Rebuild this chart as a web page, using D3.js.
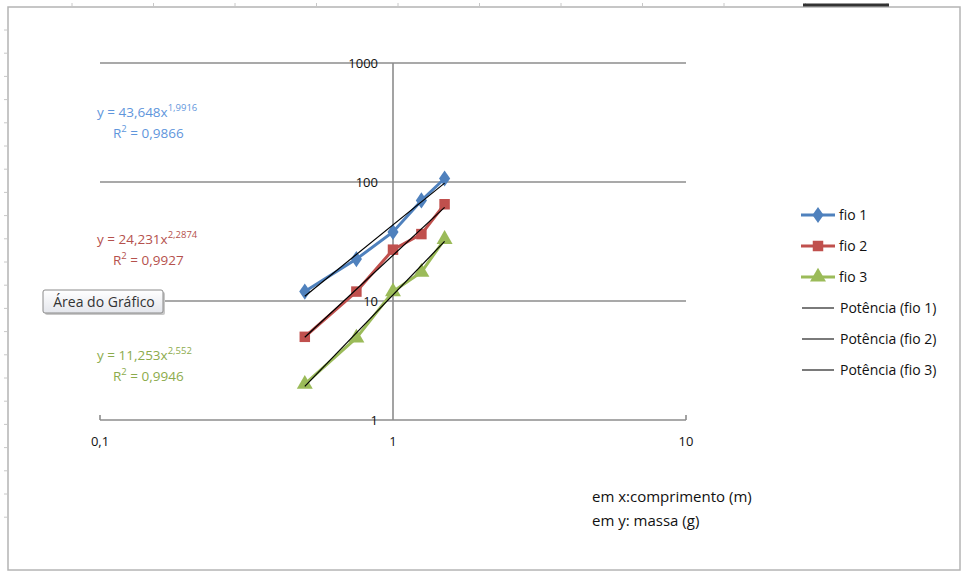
<!DOCTYPE html>
<html>
<head>
<meta charset="utf-8">
<script src="https://cdn.jsdelivr.net/npm/d3@7"></script>
<style>
  body { margin: 0; background: #fff; }
  svg { display: block; }
</style>
</head>
<body>
<svg id="chart" width="965" height="574"></svg>
<script>
// data
const xVals = [0.5, 0.75, 1, 1.25, 1.5];
const fio1 = [12, 22.5, 38, 70, 107];
const fio2 = [5, 12, 27, 36.5, 65];
const fio3 = [2, 4.9, 12, 17.5, 33];
const seriesNames = ["fio 1", "fio 2", "fio 3"];
const trendA = [43.648, 24.231, 11.253];
const trendB = [1.9916, 2.2874, 2.552];
const trendR2 = [0.9866, 0.9927, 0.9946];
const xTicks = [0.1, 1, 10];
const yTicks = [1, 10, 100, 1000];

const colors = ["#4F81BD", "#C0504D", "#9BBB59"];
const eqColors = ["#5f96dc", "#b5514d", "#8cab4c"];
const font = "'Open Sans', 'Noto Sans', sans-serif";

const svg = d3.select("#chart");

const x = d3.scaleLog().domain([0.1, 10]).range([100, 686]);
const y = d3.scaleLog().domain([1, 1000]).range([420, 63]);

function fmt(v) {
  return String(v).replace(".", ",");
}

// frame with worksheet ticks
svg.append("rect")
  .attr("x", 8).attr("y", 7).attr("width", 952).attr("height", 563)
  .attr("fill", "#fff").attr("stroke", "#b4b4b4").attr("stroke-width", 1.5);

d3.range(30, 530, 23.2).forEach(ty => {
  svg.append("line").attr("x1", 4).attr("x2", 7).attr("y1", ty).attr("y2", ty)
    .attr("stroke", "#c8c8c8");
});
d3.range(72, 960, 81.5).forEach(tx => {
  svg.append("line").attr("x1", tx).attr("x2", tx).attr("y1", 3).attr("y2", 6)
    .attr("stroke", "#c8c8c8");
});
svg.append("line").attr("x1", 803).attr("x2", 889).attr("y1", 5).attr("y2", 5)
  .attr("stroke", "#333").attr("stroke-width", 3);

// gridlines
const g = svg.append("g");
yTicks.filter(t => t > 1).forEach(t => {
  g.append("line")
    .attr("x1", x(0.1)).attr("x2", x(10))
    .attr("y1", y(t)).attr("y2", y(t))
    .attr("stroke", "#8c8c8c").attr("stroke-width", 1.6);
});

// axes
g.append("line")
  .attr("x1", x(1)).attr("x2", x(1))
  .attr("y1", y(1000)).attr("y2", y(1))
  .attr("stroke", "#8c8c8c").attr("stroke-width", 1.6);
g.append("line")
  .attr("x1", x(0.1)).attr("x2", x(10))
  .attr("y1", y(1)).attr("y2", y(1))
  .attr("stroke", "#8c8c8c").attr("stroke-width", 1.6);
[0.1, 10].forEach(t => {
  g.append("line")
    .attr("x1", x(t)).attr("x2", x(t))
    .attr("y1", y(1) - 5).attr("y2", y(1))
    .attr("stroke", "#8c8c8c").attr("stroke-width", 1.6);
});

// tick labels
yTicks.forEach(t => {
  g.append("text")
    .attr("x", x(1) - 15).attr("y", y(t) + 4.5)
    .attr("text-anchor", "end")
    .style("font", `13px ${font}`).style("fill", "#111")
    .text(t);
});
xTicks.forEach(t => {
  g.append("text")
    .attr("x", x(t)).attr("y", 446)
    .attr("text-anchor", "middle")
    .style("font", `13px ${font}`).style("fill", "#111")
    .text(fmt(t));
});

// marker shapes
const symbols = [d3.symbolDiamond, d3.symbolSquare, d3.symbolTriangle];
const symSizes = [75, 110, 110];

function marker(sel, i, cx, cy) {
  sel.append("path")
    .attr("d", d3.symbol().type(symbols[i]).size(symSizes[i])())
    .attr("transform", `translate(${cx},${cy})` + (i === 0 ? " scale(1.2,1)" : ""))
    .attr("fill", colors[i]);
}

const line = d3.line().x(d => x(d[0])).y(d => y(d[1]));
const allSeries = [fio1, fio2, fio3];

allSeries.forEach((vals, i) => {
  const pts = xVals.map((xv, k) => [xv, vals[k]]);
  g.append("path").attr("d", line(pts))
    .attr("fill", "none").attr("stroke", colors[i]).attr("stroke-width", 3);
  pts.forEach(p => marker(g, i, x(p[0]), y(p[1])));
});

// power trendlines over the data range
allSeries.forEach((vals, i) => {
  const x0 = d3.min(xVals), x1 = d3.max(xVals);
  const pts = [[x0, trendA[i] * Math.pow(x0, trendB[i])], [x1, trendA[i] * Math.pow(x1, trendB[i])]];
  g.append("path").attr("d", line(pts))
    .attr("fill", "none").attr("stroke", "#000").attr("stroke-width", 1.2);
});

// equations
const eqY = [117, 244, 360];
trendA.forEach((a, i) => {
  const t = svg.append("text")
    .attr("x", 97).attr("y", eqY[i])
    .style("font", `13.5px ${font}`).style("fill", eqColors[i]);
  t.append("tspan").text(`y = ${fmt(a)}x`);
  t.append("tspan").attr("dy", -6).style("font-size", "9.5px").text(fmt(trendB[i]));
  const r = svg.append("text")
    .attr("x", 113).attr("y", eqY[i] + 21)
    .style("font", `13.5px ${font}`).style("fill", eqColors[i]);
  r.append("tspan").text("R");
  r.append("tspan").attr("dy", -6).style("font-size", "9.5px").text("2");
  r.append("tspan").attr("dy", 6).text(` = ${fmt(trendR2[i])}`);
});

// tooltip
const defs = svg.append("defs");
const grad = defs.append("linearGradient").attr("id", "tip").attr("x1", 0).attr("x2", 0).attr("y1", 0).attr("y2", 1);
grad.append("stop").attr("offset", "0%").attr("stop-color", "#ffffff");
grad.append("stop").attr("offset", "100%").attr("stop-color", "#e4e6ec");
svg.append("rect")
  .attr("x", 45).attr("y", 292).attr("width", 120).attr("height", 23).attr("rx", 2)
  .attr("fill", "#c8c8c8");
svg.append("rect")
  .attr("x", 43).attr("y", 290).attr("width", 120).attr("height", 23).attr("rx", 2)
  .attr("fill", "url(#tip)").attr("stroke", "#8a8a8a");
svg.append("text")
  .attr("x", 104).attr("y", 307).attr("text-anchor", "middle")
  .style("font", `14px ${font}`).style("fill", "#333")
  .text("Área do Gráfico");

// legend
const legendNames = seriesNames.concat(seriesNames.map(n => `Potência (${n})`));
legendNames.forEach((name, k) => {
  const ly = 215 + k * 31;
  const lg = svg.append("g");
  if (k < 3) {
    lg.append("line").attr("x1", 801).attr("x2", 835).attr("y1", ly).attr("y2", ly)
      .attr("stroke", colors[k]).attr("stroke-width", 3);
    marker(lg, k, 818, ly);
  } else {
    lg.append("line").attr("x1", 802).attr("x2", 834).attr("y1", ly).attr("y2", ly)
      .attr("stroke", "#222").attr("stroke-width", 1.2);
  }
  lg.append("text")
    .attr("x", k < 3 ? 839 : 840).attr("y", ly + 5)
    .style("font", `14px ${font}`).style("fill", "#111")
    .text(name);
});

// axis notes
svg.append("text").attr("x", 592).attr("y", 502)
  .style("font", `15px ${font}`).style("fill", "#111").text("em x:comprimento (m)");
svg.append("text").attr("x", 592).attr("y", 526)
  .style("font", `15px ${font}`).style("fill", "#111").text("em y: massa (g)");
</script>
</body>
</html>
